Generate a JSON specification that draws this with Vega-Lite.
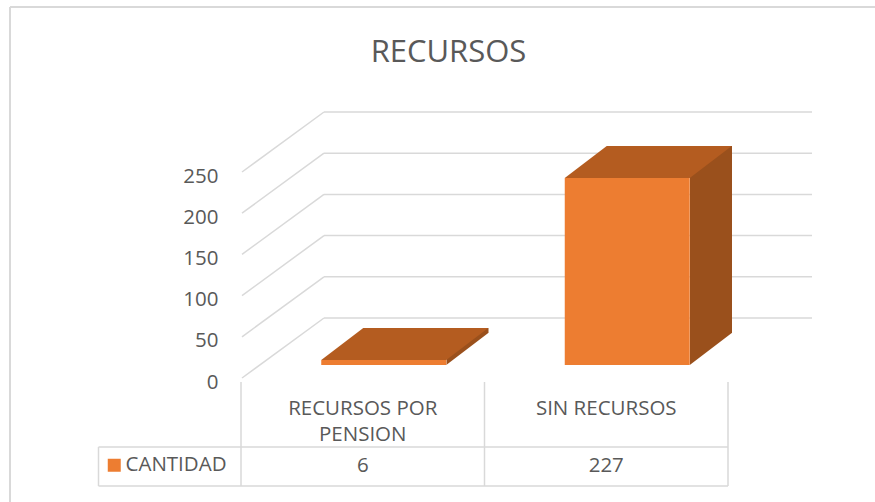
{
  "$schema": "https://vega.github.io/schema/vega-lite/v6.json",
  "autosize": {"type": "none"},
  "width": 487,
  "height": 206,
  "padding": {"left": 241, "top": 172, "right": 147, "bottom": 124},
  "background": "white",
  "config": {
    "font": "Open Sans",
    "view": {"stroke": null},
    "axisX": {"domain": false, "ticks": false, "grid": false, "labelAngle": 0, "labelFontSize": 20.5, "labelColor": "#595959", "labelPadding": 36, "labelBaseline": "alphabetic", "labelLineHeight": 26, "labelExpr": "datum.value == 'RECURSOS POR PENSION' ? ['RECURSOS POR', 'PENSION'] : datum.value"},
    "axisY": {"domain": false, "ticks": false, "grid": false, "labelFontSize": 20.5, "labelColor": "#595959", "labelPadding": 23, "labelOffset": 4}
  },
  "title": {"text": "RECURSOS", "fontSize": 31, "fontWeight": "normal", "color": "#595959", "anchor": "middle", "dx": -36, "offset": -63},
  "datasets": {
    "main": [
      {"categoria": "RECURSOS POR PENSION", "cantidad": 6, "serie": "CANTIDAD"},
      {"categoria": "SIN RECURSOS", "cantidad": 227, "serie": "CANTIDAD"}
    ],
    "grid": [{"v": 0}, {"v": 50}, {"v": 100}, {"v": 150}, {"v": 200}, {"v": 250}],
    "one": [{"k": 1}]
  },
  "layer": [
    {
      "data": {"name": "one"},
      "mark": {"type": "rule", "color": "#D9D9D9", "strokeWidth": 2, "xOffset": -231, "x2Offset": 150, "yOffset": -165},
      "encoding": {
        "x": {"datum": "RECURSOS POR PENSION", "bandPosition": 0, "title": null},
        "x2": {"datum": "SIN RECURSOS", "bandPosition": 1},
        "y": {"datum": 250, "title": null}
      }
    },
    {
      "data": {"name": "one"},
      "mark": {"type": "rule", "color": "#D9D9D9", "strokeWidth": 2, "xOffset": -231, "yOffset": -165, "y2Offset": 130},
      "encoding": {
        "x": {"datum": "RECURSOS POR PENSION", "bandPosition": 0, "title": null},
        "y": {"datum": 250, "title": null},
        "y2": {"datum": 0}
      }
    },
    {
      "data": {"name": "grid"},
      "mark": {"type": "rule", "color": "#D9D9D9", "strokeWidth": 1.5, "xOffset": 1, "x2Offset": 83, "y2Offset": -60},
      "encoding": {
        "x": {"datum": "RECURSOS POR PENSION", "bandPosition": 0, "title": null},
        "x2": {"datum": "RECURSOS POR PENSION", "bandPosition": 0},
        "y": {"field": "v", "type": "quantitative", "title": null},
        "y2": {"field": "v"}
      }
    },
    {
      "data": {"name": "grid"},
      "mark": {"type": "rule", "color": "#D9D9D9", "strokeWidth": 1.5, "xOffset": 83, "x2Offset": 84, "yOffset": -60},
      "encoding": {
        "x": {"datum": "RECURSOS POR PENSION", "bandPosition": 0, "title": null},
        "x2": {"datum": "SIN RECURSOS", "bandPosition": 1},
        "y": {"field": "v", "type": "quantitative", "title": null}
      }
    },
    {
      "data": {"name": "main"},
      "mark": {"type": "bar", "color": "#9A501C", "width": 42, "xOffset": 104.75, "yOffset": -45, "y2Offset": -13},
      "encoding": {
        "x": {"field": "categoria", "type": "nominal", "title": null},
        "y": {"field": "cantidad", "type": "quantitative", "title": null},
        "y2": {"datum": 0}
      }
    },
    {
      "data": {"name": "main"},
      "mark": {"type": "point", "shape": "M0.625,0L1.045,-0.32L1.07,-0.32L1.07,0.02L0.625,0.02Z", "size": 40000, "filled": true, "fill": "white", "opacity": 1, "strokeWidth": 0, "xOffset": 21, "yOffset": -13},
      "encoding": {
        "x": {"field": "categoria", "type": "nominal", "title": null},
        "y": {"datum": 0, "title": null}
      }
    },
    {
      "data": {"name": "main"},
      "mark": {"type": "point", "shape": "M-0.625,0L0.625,0L1.045,-0.32L-0.205,-0.32Z", "size": 40000, "filled": true, "fill": "#B45C20", "opacity": 1, "strokeWidth": 0, "xOffset": 21, "yOffset": -13},
      "encoding": {
        "x": {"field": "categoria", "type": "nominal", "title": null},
        "y": {"field": "cantidad", "type": "quantitative", "title": null}
      }
    },
    {
      "data": {"name": "main"},
      "mark": {"type": "bar", "width": 125, "xOffset": 21, "yOffset": -13, "y2Offset": -13},
      "encoding": {
        "x": {
          "field": "categoria", "type": "nominal", "title": null,
          "scale": {"domain": ["RECURSOS POR PENSION", "SIN RECURSOS"], "paddingInner": 0, "paddingOuter": 0}
        },
        "y": {
          "field": "cantidad", "type": "quantitative", "title": null,
          "scale": {"domain": [0, 250], "nice": false},
          "axis": {"values": [0, 50, 100, 150, 200, 250]}
        },
        "y2": {"datum": 0},
        "color": {
          "field": "serie", "type": "nominal",
          "scale": {"domain": ["CANTIDAD"], "range": ["#ED7D31"]},
          "legend": {"title": null, "orient": "none", "legendX": -137, "legendY": 283, "symbolType": "square", "symbolSize": 169, "symbolStrokeWidth": 0, "labelFontSize": 20.5, "labelColor": "#595959", "labelOffset": 1, "padding": 0}
        }
      }
    },
    {
      "data": {"name": "main"},
      "mark": {"type": "rule", "color": "#D9D9D9", "strokeWidth": 1.5, "yOffset": 4, "y2Offset": 108},
      "encoding": {
        "x": {"field": "categoria", "type": "nominal", "bandPosition": 0, "title": null},
        "y": {"datum": 0, "title": null},
        "y2": {"datum": 0}
      }
    },
    {
      "data": {"name": "one"},
      "mark": {"type": "rule", "color": "#D9D9D9", "strokeWidth": 1.5, "yOffset": 4, "y2Offset": 108},
      "encoding": {
        "x": {"datum": "SIN RECURSOS", "bandPosition": 1, "title": null},
        "y": {"datum": 0, "title": null},
        "y2": {"datum": 0}
      }
    },
    {
      "data": {"name": "one"},
      "mark": {"type": "rule", "color": "#D9D9D9", "strokeWidth": 1.5, "xOffset": -142.5, "yOffset": 69, "y2Offset": 108},
      "encoding": {
        "x": {"datum": "RECURSOS POR PENSION", "bandPosition": 0, "title": null},
        "y": {"datum": 0, "title": null},
        "y2": {"datum": 0}
      }
    },
    {
      "data": {"name": "one"},
      "mark": {"type": "rule", "color": "#D9D9D9", "strokeWidth": 1.5, "xOffset": -142.5, "yOffset": 69},
      "encoding": {
        "x": {"datum": "RECURSOS POR PENSION", "bandPosition": 0, "title": null},
        "x2": {"datum": "SIN RECURSOS", "bandPosition": 1},
        "y": {"datum": 0, "title": null}
      }
    },
    {
      "data": {"name": "one"},
      "mark": {"type": "rule", "color": "#D9D9D9", "strokeWidth": 1.5, "xOffset": -142.5, "yOffset": 108},
      "encoding": {
        "x": {"datum": "RECURSOS POR PENSION", "bandPosition": 0, "title": null},
        "x2": {"datum": "SIN RECURSOS", "bandPosition": 1},
        "y": {"datum": 0, "title": null}
      }
    },
    {
      "data": {"name": "main"},
      "mark": {"type": "text", "fontSize": 20.5, "color": "#595959", "baseline": "middle", "yOffset": 88},
      "encoding": {
        "x": {"field": "categoria", "type": "nominal", "title": null},
        "y": {"datum": 0, "title": null},
        "text": {"field": "cantidad", "type": "quantitative"}
      }
    }
  ]
}
